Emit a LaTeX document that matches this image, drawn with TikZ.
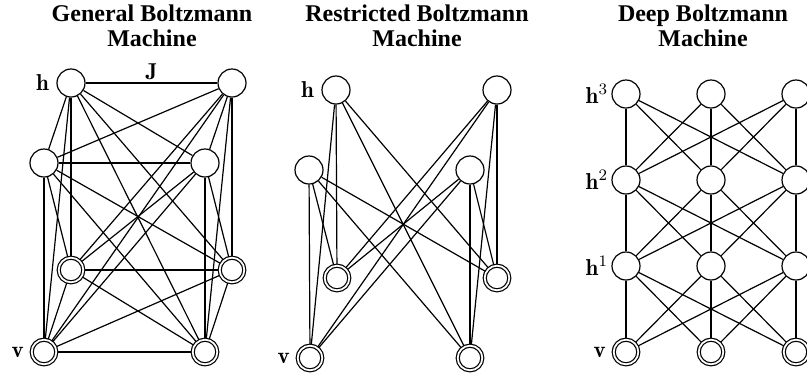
\documentclass[tikz,border=0pt]{standalone}
\usepackage{fontspec}
\newfontfamily\timesfont{Liberation Serif}
\usetikzlibrary{positioning,backgrounds}

\begin{document}
\begin{tikzpicture}[x=0.5pt,y=-0.5pt,
  unit/.style={circle,draw,line width=0.6pt,minimum size=14pt,inner sep=0pt,fill=white},
  visunit/.style={unit,double,double distance=0.9pt,minimum size=12.3pt},
  title/.style={align=center,font=\timesfont\bfseries\fontsize{12}{12.5}\selectfont},
  lbl/.style={inner sep=1.5pt,font=\fontsize{11.5}{12}\selectfont},
  link/.style={line width=0.6pt}]

\useasboundingbox (0,0) rectangle (807,377);

\node[title] (tgen) at (152,26) {General Boltzmann\\Machine};
\node[title] (tres) at (417,26) {Restricted Boltzmann\\Machine};
\node[title] (tdeep) at (703,26) {Deep Boltzmann\\Machine};

\node[unit] (g1) at (71,83) {};
\node[unit] (g2) at (232,83) {};
\node[unit] (g3) at (44,163) {};
\node[unit] (g4) at (205,163) {};
\node[visunit] (g5) at (71,270) {};
\node[visunit] (g6) at (232,270) {};
\node[visunit] (g7) at (44,352) {};
\node[visunit] (g8) at (205,352) {};

\node[lbl,left=2pt of g1] {$\mathbf{h}$};
\node[lbl,left=2pt of g7] {$\mathbf{v}$};
\path (g1) -- node[lbl,above=0pt] {$\mathbf{J}$} (g2);

\node[unit] (r1) at (336,90) {};
\node[unit] (r2) at (497,90) {};
\node[unit] (r3) at (309,170) {};
\node[unit] (r4) at (470,170) {};
\node[visunit] (r5) at (337,278) {};
\node[visunit] (r6) at (497,278) {};
\node[visunit] (r7) at (310,358) {};
\node[visunit] (r8) at (470,358) {};

\node[lbl,left=2pt of r1] {$\mathbf{h}$};
\node[lbl,left=2pt of r7] {$\mathbf{v}$};

\foreach \c/\x in {1/626,2/711,3/796} {
  \node[visunit] (d0\c) at (\x,352) {};
  \node[unit] (d1\c) at (\x,266) {};
  \node[unit] (d2\c) at (\x,180) {};
  \node[unit] (d3\c) at (\x,94) {};
}

\node[lbl,left=0pt of d31] {$\mathbf{h}^3$};
\node[lbl,left=0pt of d21] {$\mathbf{h}^2$};
\node[lbl,left=0pt of d11] {$\mathbf{h}^1$};
\node[lbl,left=2pt of d01] {$\mathbf{v}$};

\begin{scope}[on background layer]
\foreach \i in {1,...,7} {
  \pgfmathtruncatemacro\k{\i+1}
  \foreach \j in {\k,...,8}
    \draw[link] (g\i) -- (g\j);
}
\foreach \i in {1,...,4}
  \foreach \j in {5,...,8}
    \draw[link] (r\i) -- (r\j);
\foreach \r in {0,1,2} {
  \pgfmathtruncatemacro\s{\r+1}
  \foreach \a in {1,2,3}
    \foreach \b in {1,2,3}
      \draw[link] (d\r\a) -- (d\s\b);
}
\end{scope}
\end{tikzpicture}
\end{document}
